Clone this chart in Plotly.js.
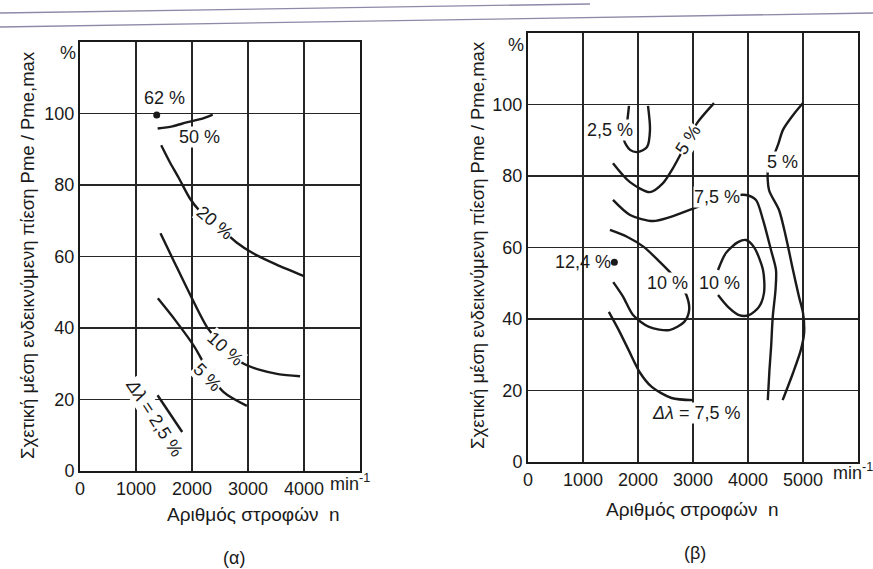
<!DOCTYPE html>
<html><head><meta charset="utf-8">
<script src="https://cdn.plot.ly/plotly-3.0.1.min.js"></script>
<style>html,body{margin:0;padding:0;background:#fff}#chart{width:873px;height:569px}</style>
</head><body><div id="chart"></div>
<script>
// ---------- (α) left chart ----------
const aTickX = [0, 1000, 2000, 3000, 4000];
const aTickY = [0, 20, 40, 60, 80, 100];
const a62x = [1370], a62y = [99.6];
const a50x = [1387, 1650, 1905, 2150, 2370];
const a50y = [95.8, 96.4, 97.5, 98.4, 99.7];
const a20x = [1450, 1600, 1760, 1960, 2130, 2410, 2790, 3090, 3500, 4000];
const a20y = [91.1, 86.5, 82.1, 76.3, 72.9, 69.3, 64.0, 60.9, 57.8, 54.5];
const a10x = [1437, 1670, 1990, 2283, 2584, 2900, 3230, 3540, 3930];
const a10y = [66.5, 58.9, 48.6, 39.9, 34.6, 30.2, 28.2, 27.1, 26.5];
const a5x = [1390, 1700, 2050, 2270, 2560, 2980];
const a5y = [48.3, 42.2, 34.6, 28.5, 22.1, 18.2];
const a25x = [1385, 1825];
const a25y = [21.2, 10.9];

// ---------- (β) right chart ----------
const bTickX = [0, 1000, 2000, 3000, 4000, 5000];
const bTickY = [0, 20, 40, 60, 80, 100];
const b124x = [1570], b124y = [55.9];
const b25x = [1836, 1800, 1745, 1855, 2000, 2164, 2218, 2182];
const b25y = [99.6, 94.8, 90.1, 87.3, 86.7, 88.1, 92.9, 99.6];
const b5ax = [1545, 1855, 2218, 2455, 2636, 2909, 3073, 3382];
const b5ay = [83.6, 78.3, 75.5, 78.0, 82.2, 90.0, 94.8, 100.4];
const b75ax = [1545, 1855, 2273, 2582, 3073, 3450, 3964, 4145, 4273, 4418, 4509, 4500, 4450, 4420, 4390, 4360];
const b75ay = [73.3, 69.1, 67.4, 68.5, 71.3, 73.5, 74.7, 73.3, 67.7, 59.3, 53.7, 48.1, 40.6, 32.2, 25.7, 17.3];
const b5bx = [5000, 4818, 4636, 4545, 4450, 4364, 4382, 4564, 4690, 4818, 4927, 5000, 5020, 4960, 4818, 4630];
const b5by = [100.4, 97.0, 92.9, 88.7, 85.0, 81.7, 76.1, 70.5, 62.9, 53.7, 46.2, 41.7, 36.1, 31.3, 24.9, 17.3];
const b10ax = [1490, 1800, 2110, 2400, 2580, 2750, 2880, 2930, 2840, 2570, 2200, 1910, 1730, 1550];
const b10ay = [64.9, 63.0, 60.1, 55.9, 53.1, 50.0, 46.7, 42.5, 39.2, 36.9, 37.8, 41.1, 46.2, 50.3];
const b10bx = [3455, 3600, 3818, 3964, 4109, 4273, 4291, 4200, 4018, 3836, 3636, 3455];
const b10by = [53.7, 58.5, 61.5, 62.1, 60.1, 53.7, 47.3, 43.4, 41.1, 41.1, 43.4, 46.7];
const b75bx = [1470, 1650, 1830, 2040, 2250, 2610, 3000];
const b75by = [42.0, 36.9, 31.3, 24.9, 21.0, 17.9, 17.3];

const FONT = '"Liberation Sans", Arial, sans-serif';
const INK = '#1a1a1a';
const lineStyle = {color: INK, width: 2.4, shape: 'spline', smoothing: 0.8};

function curve(x, y, xa, ya) {
  return {x: x, y: y, xaxis: xa, yaxis: ya, mode: 'lines', line: lineStyle, hoverinfo: 'skip', showlegend: false};
}
function dot(x, y, xa, ya) {
  return {x: x, y: y, xaxis: xa, yaxis: ya, mode: 'markers', marker: {color: INK, size: 7}, hoverinfo: 'skip', showlegend: false};
}

const traces = [
  dot(a62x, a62y, 'x', 'y'),
  curve(a50x, a50y, 'x', 'y'),
  curve(a20x, a20y, 'x', 'y'),
  curve(a10x, a10y, 'x', 'y'),
  curve(a5x, a5y, 'x', 'y'),
  curve(a25x, a25y, 'x', 'y'),
  dot(b124x, b124y, 'x2', 'y2'),
  curve(b25x, b25y, 'x2', 'y2'),
  curve(b5ax, b5ay, 'x2', 'y2'),
  curve(b75ax, b75ay, 'x2', 'y2'),
  curve(b5bx, b5by, 'x2', 'y2'),
  curve(b10ax, b10ay, 'x2', 'y2'),
  curve(b10bx, b10by, 'x2', 'y2'),
  curve(b75bx, b75by, 'x2', 'y2')
];

const W = 873, H = 569;
function axisBase(extra) {
  return Object.assign({
    showline: true, mirror: true, linecolor: INK, linewidth: 2,
    showgrid: true, gridcolor: '#262626', gridwidth: 1.4,
    zeroline: false, ticks: '', fixedrange: true,
    tickfont: {family: FONT, size: 18, color: INK}
  }, extra);
}

function lab(text, x, y, xr, yr, angle, extra) {
  return Object.assign({
    text: text, x: x, y: y, xref: xr, yref: yr, showarrow: false,
    xanchor: 'center', yanchor: 'middle',
    textangle: angle || 0, bgcolor: 'white', borderpad: 0,
    font: {family: FONT, size: 18, color: INK}
  }, extra || {});
}
function pap(text, px, py, size, angle, extra) {
  return Object.assign({
    text: text, x: px / W, y: 1 - py / H, xref: 'paper', yref: 'paper',
    xanchor: 'center', yanchor: 'middle',
    showarrow: false, textangle: angle || 0,
    font: {family: FONT, size: size, color: INK}
  }, extra || {});
}

const annotations = [
  // (α) labels
  lab('62 %', 1510, 104.3, 'x', 'y', 0, {bgcolor: 'rgba(0,0,0,0)'}),
  lab('50 %', 2137, 93.3, 'x', 'y'),
  lab('20 %', 2410, 69.3, 'x', 'y', 40),
  lab('10 %', 2600, 34.2, 'x', 'y', 42),
  lab('5 %', 2270, 26.3, 'x', 'y', 45),
  lab('<i>Δλ</i> = 2,5 %', 1330, 14.8, 'x', 'y', 57),
  // (β) labels
  lab('2,5 %', 1490, 92.9, 'x2', 'y2'),
  lab('5 %', 2909, 90, 'x2', 'y2', -57),
  lab('5 %', 4636, 84, 'x2', 'y2'),
  lab('7,5 %', 3440, 74.1, 'x2', 'y2'),
  lab('12,4 %', 1000, 55.9, 'x2', 'y2', 0, {bgcolor: 'rgba(0,0,0,0)'}),
  lab('10 %', 2545, 50, 'x2', 'y2'),
  lab('10 %', 3473, 50, 'x2', 'y2'),
  lab('<i>Δλ</i> = 7,5 %', 3060, 13.7, 'x2', 'y2'),
  // axis decorations
  pap('%', 68, 53, 18),
  pap('%', 516, 45, 18),
  pap('min<sup>-1</sup>', 350, 482, 18),
  pap('min<sup>-1</sup>', 853, 471, 18),
  // axis titles
  pap('Σχετική μέση ενδεικνύμενη πίεση Pme / Pme,max', 27, 255, 18.5, -90),
  pap('Σχετική μέση ενδεικνύμενη πίεση Pme / Pme,max', 477, 245, 18.5, -90),
  pap('Αριθμός στροφών  n', 253, 514, 19),
  pap('Αριθμός στροφών  n', 692, 509, 19),
  pap('(α)', 234, 558, 18),
  pap('(β)', 695, 553, 18)
];

const layout = {
  width: W, height: H,
  margin: {l: 0, r: 0, t: 0, b: 0},
  paper_bgcolor: 'white', plot_bgcolor: 'white',
  showlegend: false,
  xaxis: axisBase({domain: [80 / W, 360 / W], range: [0, 5000], tickvals: aTickX, anchor: 'y'}),
  yaxis: axisBase({domain: [1 - 471 / H, 1 - 42 / H], range: [0, 120], tickvals: aTickY, anchor: 'x'}),
  xaxis2: axisBase({domain: [528 / W, 858 / W], range: [0, 6000], tickvals: bTickX, anchor: 'y2'}),
  yaxis2: axisBase({domain: [1 - 462 / H, 1 - 33 / H], range: [0, 120], tickvals: bTickY, anchor: 'x2'}),
  annotations: annotations,
  shapes: [
    {type: 'line', xref: 'paper', yref: 'paper', x0: 0, y0: 1 - 13 / H, x1: 590 / W, y1: 1 - 4 / H,
     line: {color: '#8c8aa8', width: 1.3}},
    {type: 'line', xref: 'paper', yref: 'paper', x0: 0, y0: 1 - 27 / H, x1: 1, y1: 1 - 13 / H,
     line: {color: '#8c8aa8', width: 1.3}}
  ]
};

Plotly.newPlot('chart', traces, layout, {staticPlot: true, displayModeBar: false});
</script></body></html>
